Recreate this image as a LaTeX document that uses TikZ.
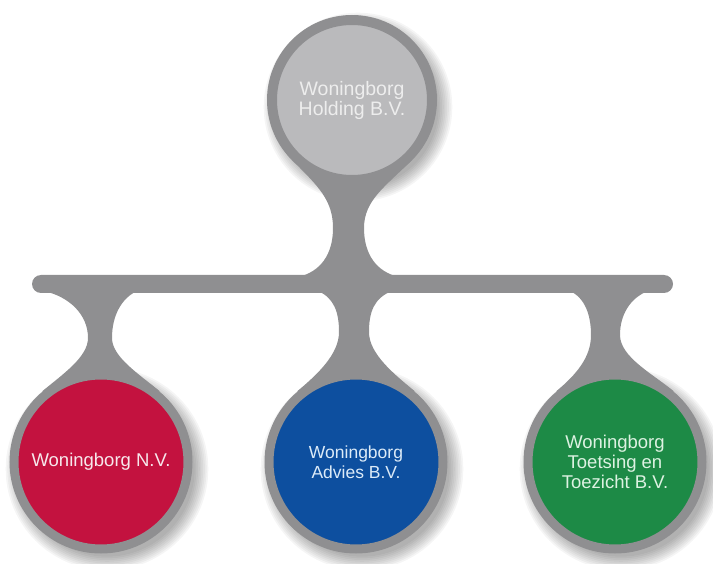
\documentclass[tikz,border=0pt]{standalone}
\usepackage{fontspec}
\setmainfont{Liberation Sans}
\usetikzlibrary{calc,backgrounds}
\definecolor{ring}{HTML}{8F8F91}
\definecolor{topfill}{HTML}{BABABC}
\definecolor{topfont}{HTML}{EDEDED}
\definecolor{redfill}{HTML}{C3123F}
\definecolor{redfont}{HTML}{F7E8EC}
\definecolor{bluefill}{HTML}{0D4F9F}
\definecolor{bluefont}{HTML}{DCEBF8}
\definecolor{greenfill}{HTML}{1D8A46}
\definecolor{greenfont}{HTML}{DDF2E2}
\begin{document}
\begin{tikzpicture}[x=1pt,y=-1pt,
  org/.style={circle, draw=ring, line width=9pt, minimum size=174pt, inner sep=0pt,
    align=center, font=\fontsize{18.5}{20}\selectfont},
  holding/.style={circle, draw=ring, line width=10pt, minimum size=160pt, inner sep=0pt,
    fill=topfill, text=topfont, align=center, font=\fontsize{19.5}{20}\selectfont},
  barstyle/.style={rectangle, rounded corners=9pt, fill=ring, minimum width=641pt,
    minimum height=18pt, inner sep=0pt},
  stem/.style={fill=ring},
  shade/.style={fill=black, opacity=0.04}]
\useasboundingbox (0,0) rectangle (713,564);

\node[holding] (top) at (352,100) {Woningborg\\Holding B.V.};
\node[barstyle] (bar) at (352.5,284) {};
\node[org, fill=redfill, text=redfont] (n1) at (101,462) {Woningborg N.V.};
\node[org, fill=bluefill, text=bluefont, font=\fontsize{17.5}{20}\selectfont] (n2) at (356,462) {Woningborg\\Advies B.V.};
\node[org, fill=greenfill, text=greenfont] (n3) at (615,462) {Woningborg\\Toetsing en\\Toezicht B.V.};

\begin{scope}[on background layer]
  % soft shadows
  \foreach \n/\r in {top/85, n1/92, n2/92, n3/92}{
    \foreach \i in {1,...,9}{
      \fill[shade] ($(\n.center)+(6,7)$) circle ({\r-6+1.7*\i});
    }
  }
  % stem from holding to bar
  \begin{scope}[shift={(top.center)}]
    \fill[stem] (-60,60) .. controls (-34,86) and (-19,100) .. (-19,128)
      .. controls (-19,155) and (-32,172) .. (-54,177) -- (47,177)
      .. controls (25,172) and (12,155) .. (12,128)
      .. controls (12,100) and (34,86) .. (60,60) -- cycle;
  \end{scope}
  % stems from bar to subsidiaries
  \begin{scope}[shift={(n1.center)}]
    \fill[stem] (-57,-171) .. controls (-31,-165) and (-13,-147) .. (-13,-124)
      .. controls (-13,-105) and (-38,-88) .. (-59,-70.5) -- (59,-70.5)
      .. controls (38,-88) and (11,-105) .. (11,-124)
      .. controls (11,-147) and (21,-164) .. (36,-171) -- cycle;
  \end{scope}
  \begin{scope}[shift={(n2.center)}]
    \fill[stem] (-38,-171) .. controls (-22,-164) and (-17,-150) .. (-17,-130)
      .. controls (-17,-108) and (-38,-88) .. (-59,-70.5) -- (59,-70.5)
      .. controls (38,-88) and (13,-108) .. (13,-130)
      .. controls (13,-150) and (18,-164) .. (36,-171) -- cycle;
  \end{scope}
  \begin{scope}[shift={(n3.center)}]
    \fill[stem] (-45,-171) .. controls (-30,-164) and (-24,-147) .. (-24,-127)
      .. controls (-24,-105) and (-38,-88) .. (-59,-70.5) -- (59,-70.5)
      .. controls (38,-88) and (5,-105) .. (5,-127)
      .. controls (5,-147) and (15,-164) .. (33,-171) -- cycle;
  \end{scope}
\end{scope}
\end{tikzpicture}
\end{document}
